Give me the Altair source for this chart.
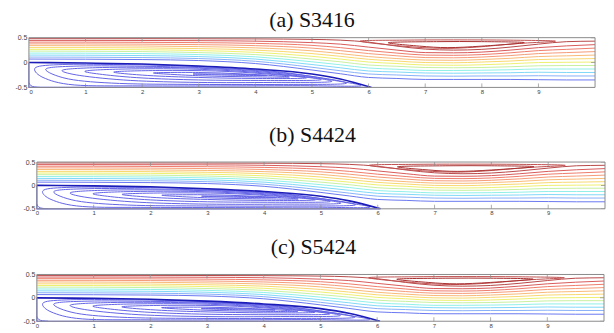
import altair as alt
import pandas as pd

TITLES = ["(a) S3416", "(b) S4424", "(c) S5424"]

# streamlines of the main flow (top -> bottom), y read at STREAM_X
STREAM_X = [0, 1, 2, 3, 4, 5, 5.5, 6, 6.5, 7, 7.5, 8, 8.5, 9, 9.5, 10]
STREAM_Y = [
    [0.48, 0.48, 0.48, 0.478, 0.475, 0.465, 0.45, 0.41, 0.33, 0.27, 0.25, 0.265, 0.31, 0.37, 0.42, 0.43],
    [0.445, 0.445, 0.443, 0.44, 0.43, 0.40, 0.37, 0.31, 0.25, 0.20, 0.195, 0.21, 0.25, 0.30, 0.335, 0.36],
    [0.41, 0.41, 0.406, 0.40, 0.385, 0.345, 0.30, 0.24, 0.19, 0.15, 0.145, 0.16, 0.195, 0.24, 0.265, 0.29],
    [0.375, 0.374, 0.37, 0.36, 0.34, 0.29, 0.24, 0.18, 0.135, 0.10, 0.095, 0.11, 0.14, 0.18, 0.20, 0.22],
    [0.34, 0.338, 0.333, 0.32, 0.295, 0.235, 0.18, 0.12, 0.08, 0.05, 0.045, 0.06, 0.085, 0.12, 0.135, 0.15],
    [0.30, 0.30, 0.295, 0.28, 0.25, 0.18, 0.125, 0.065, 0.03, 0.0, -0.005, 0.01, 0.03, 0.06, 0.07, 0.08],
    [0.265, 0.263, 0.258, 0.24, 0.205, 0.125, 0.07, 0.01, -0.02, -0.05, -0.055, -0.045, -0.025, 0.0, 0.005, 0.01],
    [0.23, 0.227, 0.22, 0.20, 0.16, 0.07, 0.015, -0.05, -0.075, -0.10, -0.105, -0.10, -0.085, -0.065, -0.06, -0.06],
    [0.19, 0.187, 0.18, 0.16, 0.115, 0.015, -0.045, -0.11, -0.135, -0.16, -0.16, -0.155, -0.145, -0.13, -0.13, -0.13],
    [0.15, 0.147, 0.14, 0.12, 0.07, -0.04, -0.105, -0.17, -0.19, -0.21, -0.215, -0.21, -0.205, -0.195, -0.20, -0.20],
    [0.11, 0.107, 0.10, 0.08, 0.025, -0.095, -0.165, -0.23, -0.25, -0.27, -0.275, -0.27, -0.27, -0.265, -0.27, -0.27],
    [0.07, 0.067, 0.06, 0.04, -0.02, -0.15, -0.225, -0.30, -0.32, -0.34, -0.34, -0.34, -0.34, -0.345, -0.35, -0.35],
]
STREAM_COLORS = ["#b84848", "#d85a5a", "#ee7b6b", "#f59a78", "#f8b978", "#f8d870",
                 "#eef070", "#c8f0a0", "#90f0e8", "#80d8f8", "#88b0f8", "#6a78f0"]

# dividing streamline (psi = 0) from the step corner to reattachment
DIVIDE_X = [0, 1, 2, 3, 4, 5, 5.5, 6.05]
DIVIDE_Y = [0, -0.01, -0.03, -0.07, -0.13, -0.23, -0.33, -0.5]

# small corner eddy
CORNER_X = [0, 0.03, 0.1, 0.2]
CORNER_Y = [-0.4, -0.46, -0.49, -0.5]

# step wall and bottom wall up to reattachment
WALL_X = [0, 0, 6.05]
WALL_Y = [0, -0.5, -0.5]

# closed contours of the lower recirculation (outer -> inner)
LOWER_EDDY_X = [
    [0.12, 0.6, 1.5, 2.5, 3.5, 4.5, 5.4, 5.85, 4.8, 3.5, 2.0, 0.8, 0.25],
    [0.3, 0.9, 2.0, 3.0, 4.0, 5.0, 5.6, 4.5, 3.0, 1.6, 0.7],
    [0.6, 1.3, 2.5, 3.5, 4.5, 5.35, 4.3, 3.0, 1.8, 0.9],
    [1.0, 1.7, 2.8, 3.8, 4.7, 5.15, 4.2, 3.0, 2.0, 1.3],
    [1.5, 2.3, 3.3, 4.2, 4.9, 4.0, 3.0, 2.1],
    [2.2, 3.0, 3.8, 4.6, 3.8, 3.0],
    [2.9, 3.6, 4.2, 3.6],
]
LOWER_EDDY_Y = [
    [-0.1, -0.04, -0.04, -0.06, -0.11, -0.2, -0.36, -0.47, -0.465, -0.47, -0.47, -0.45, -0.3],
    [-0.13, -0.07, -0.075, -0.1, -0.16, -0.28, -0.42, -0.44, -0.44, -0.42, -0.33],
    [-0.15, -0.1, -0.1, -0.14, -0.23, -0.38, -0.4, -0.4, -0.36, -0.26],
    [-0.17, -0.13, -0.13, -0.18, -0.27, -0.35, -0.36, -0.35, -0.31, -0.24],
    [-0.19, -0.16, -0.17, -0.23, -0.31, -0.32, -0.3, -0.26],
    [-0.21, -0.2, -0.23, -0.29, -0.285, -0.265],
    [-0.23, -0.235, -0.26, -0.255],
]

# closed contours of the upper recirculation (outer -> inner)
UPPER_EDDY_X = [
    [5.85, 6.6, 7.5, 8.5, 9.3, 8.6, 7.9, 7.3, 6.6],
    [6.35, 7.2, 8.0, 8.75, 8.0, 7.4, 6.9],
]
UPPER_EDDY_Y = [
    [0.43, 0.45, 0.455, 0.45, 0.43, 0.38, 0.31, 0.285, 0.33],
    [0.40, 0.42, 0.42, 0.40, 0.33, 0.30, 0.33],
]
UPPER_EDDY_COLORS = ["#c05050", "#a83030"]

X_DOMAIN = [0, 10]
Y_DOMAIN = [-0.5, 0.5]
TICK_X = [1, 2, 3, 4, 5, 6, 7, 8, 9]
TICK_Y = [-0.5, 0, 0.5]
X_LABELS = [0, 1, 2, 3, 4, 5, 6, 7, 8, 9]
Y_LABELS = [-0.5, 0, 0.5]

LENS_BLUE = "#6464e6"
DARK_BLUE = "#1c1cb8"
FRAME = "#8a8a8a"

# ---------- tables ----------
rows = []
for k, (ys, c) in enumerate(zip(STREAM_Y, STREAM_COLORS)):
    for i, (x, y) in enumerate(zip(STREAM_X, ys)):
        rows.append({"line": f"s{k}", "i": i, "x": x, "y": y, "color": c})
for i, (x, y) in enumerate(zip(CORNER_X, CORNER_Y)):
    rows.append({"line": "corner", "i": i, "x": x, "y": y, "color": LENS_BLUE})
streams = pd.DataFrame(rows)

divide = pd.DataFrame({"line": "div", "i": range(len(DIVIDE_X)), "x": DIVIDE_X, "y": DIVIDE_Y})
wall = pd.DataFrame({"line": "wall", "i": range(len(WALL_X)), "x": WALL_X, "y": WALL_Y})

rows = []
for k, (xs, ys) in enumerate(zip(LOWER_EDDY_X, LOWER_EDDY_Y)):
    for i, (x, y) in enumerate(zip(xs, ys)):
        rows.append({"line": f"l{k}", "i": i, "x": x, "y": y, "color": LENS_BLUE})
for k, (xs, ys) in enumerate(zip(UPPER_EDDY_X, UPPER_EDDY_Y)):
    for i, (x, y) in enumerate(zip(xs, ys)):
        rows.append({"line": f"u{k}", "i": i, "x": x, "y": y, "color": UPPER_EDDY_COLORS[k]})
lenses = pd.DataFrame(rows)

frame = pd.DataFrame({"x": [X_DOMAIN[0]], "x2": [X_DOMAIN[1]],
                      "y": [Y_DOMAIN[0]], "y2": [Y_DOMAIN[1]]})
vticks = pd.DataFrame([{"x": x, "y": y} for x in TICK_X for y in Y_DOMAIN])
hticks = pd.DataFrame([{"x": X_DOMAIN[1], "y": y} for y in TICK_Y])

Y_LABEL_EXPR = "datum.value < 0 ? '-' + format(-datum.value, '~g') : format(datum.value, '~g')"


def panel(title, w, h, x_lo, y_off, x_ext, t_offset, t_dx):
    XS = alt.Scale(domain=[x_lo, X_DOMAIN[1]], nice=False, zero=False)
    YS = alt.Scale(domain=Y_DOMAIN, nice=False, zero=False)
    xaxis = alt.Axis(values=X_LABELS, format="d", title=None, ticks=False, domain=False,
                     grid=False, labelFontSize=6, labelColor="#444444", labelPadding=1,
                     labelFont="Liberation Sans", minExtent=x_ext, maxExtent=x_ext)
    yaxis = alt.Axis(values=Y_LABELS, labelExpr=Y_LABEL_EXPR, title=None, offset=y_off,
                     ticks=False, domain=False, grid=False, labelFontSize=7,
                     labelColor="#444444", labelPadding=2, labelFont="Liberation Sans",
                     minExtent=16, maxExtent=16)
    X = alt.X("x:Q", scale=XS, axis=xaxis)
    Y = alt.Y("y:Q", scale=YS, axis=yaxis)

    s = alt.Chart(streams).mark_line(interpolate="monotone", strokeWidth=1, clip=True).encode(
        x=X, y=Y, detail="line:N", color=alt.Color("color:N", scale=None), order="i:Q")
    d = alt.Chart(divide).mark_line(interpolate="monotone", strokeWidth=1.6, color=DARK_BLUE,
                                    clip=True).encode(x=X, y=Y, order="i:Q")
    wl = alt.Chart(wall).mark_line(interpolate="linear", strokeWidth=1.2, color=LENS_BLUE,
                                   clip=False).encode(x=X, y=Y, order="i:Q")
    ln = alt.Chart(lenses).mark_line(interpolate="cardinal-closed", strokeWidth=1, clip=True).encode(
        x=X, y=Y, detail="line:N", color=alt.Color("color:N", scale=None), order="i:Q")
    fr = alt.Chart(frame).mark_rect(filled=False, stroke=FRAME, strokeWidth=1).encode(
        x=X, x2="x2:Q", y=Y, y2="y2:Q")
    vt = alt.Chart(vticks).mark_tick(orient="vertical", size=8, thickness=1, color=FRAME,
                                     clip=True).encode(x=X, y=Y)
    ht = alt.Chart(hticks).mark_tick(orient="horizontal", size=8, thickness=1, color=FRAME,
                                     clip=True).encode(x=X, y=Y)
    return alt.layer(s, ln, d, wl, fr, vt, ht).properties(
        width=w, height=h,
        title=alt.TitleParams(title, font="Liberation Serif", fontSize=22, fontWeight="normal",
                              color="#111111", anchor="middle", frame="group",
                              offset=t_offset, dx=t_dx))


pa = panel(TITLES[0], 569, 50, 0, 0, 20, 2, 0)
pb = panel(TITLES[1], 579, 47, -0.14, -8, 10, 11, -4.5)
pc = panel(TITLES[2], 578, 47, -0.1404, -8, 9, 12, -3)

chart = alt.vconcat(pa, pb, pc, spacing=17).properties(
    padding={"left": 5, "top": 0, "right": 0, "bottom": 0}
).configure_view(strokeWidth=0)

chart.save("out.html", embed_options={"renderer": "svg", "actions": False})
